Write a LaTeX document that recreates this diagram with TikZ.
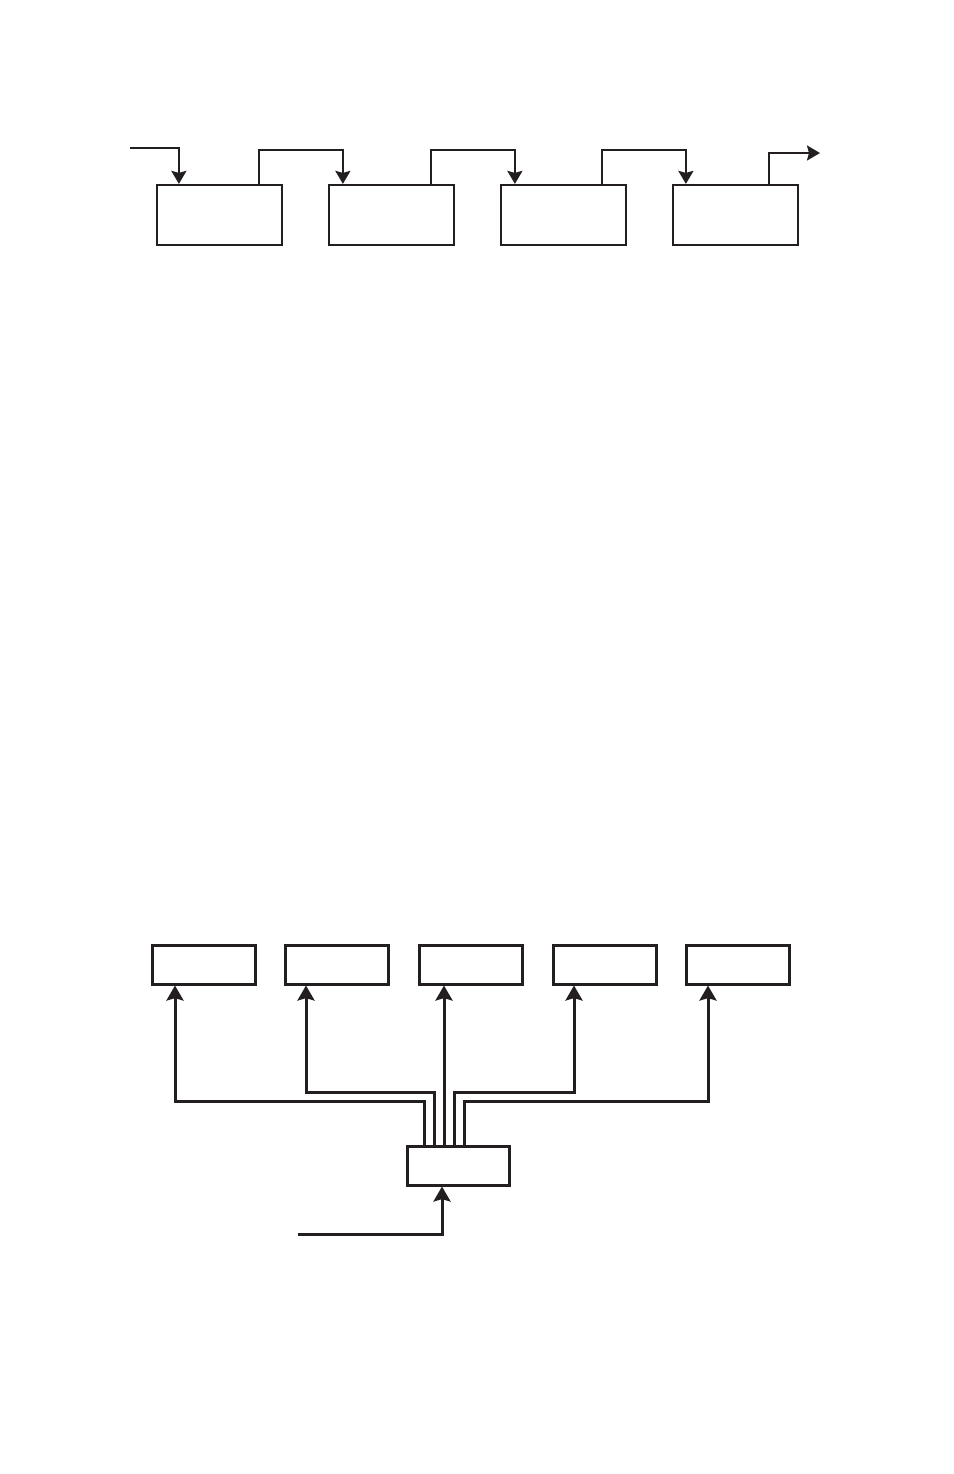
\documentclass[tikz,border=0pt]{standalone}
\usetikzlibrary{arrows.meta}

\definecolor{ink}{RGB}{35,31,32}
\tikzset{
  unit/.style={draw=ink,line width=1.1pt,minimum width=62.5pt,minimum height=30pt,inner sep=0pt},
  slot/.style={draw=ink,line width=1.5pt,minimum width=51.5pt,minimum height=19.5pt,inner sep=0pt},
  flow/.style={draw=ink,-{Stealth[length=6.5pt,width=7.5pt,inset=1pt]}},
  feed/.style={draw=ink,line width=1.5pt,-{Stealth[length=7.5pt,width=8.5pt,inset=1.2pt]}}
}

\begin{document}
\begin{tikzpicture}[x=0.5pt,y=-0.5pt]
  \useasboundingbox (0,0) rectangle (954,1474);

  % chain of units
  \foreach \i/\x in {1/219.5,2/391.5,3/563.5,4/735.5}
    \node[unit] (b\i) at (\x,215) {};
  \coordinate (in) at (130,148);
  \draw[flow,line width=1.1pt] (in) -| ([xshift=11.5pt]b1.north west);
  \foreach \i/\dx/\ex [count=\j from 2] in {1/-12/7.5,2/-12/7.5,3/-12.5/7}
    \draw[flow,line width=1.1pt] ([xshift=\dx pt]b\i.north east) -- ++(0,-34) -| ([xshift=\ex pt]b\j.north west);
  \coordinate (out) at (820,153);
  \draw[flow,line width=1.1pt] ([xshift=-15pt]b4.north east) |- (out);

  % distribution
  \foreach \i/\x in {1/203.5,2/337,3/470.5,4/604.5,5/738}
    \node[slot] (o\i) at (\x,964.5) {};
  \node[slot,minimum width=51pt] (hub) at (458,1165.5) {};

  \foreach \i/\dx/\rise/\ax in {1/-17/43/-14.25,2/-12/52/-15.5,4/-2/52/-15.25,5/3/43/-15}
    \draw[feed] ([xshift=\dx pt]hub.north) -- ++(0,-\rise) -| ([xshift=\ax pt]o\i.south);
  \draw[feed] ([xshift=-7pt]hub.north) -- ([xshift=-7pt]hub.north |- o3.south);

  \coordinate (src) at (298,1234);
  \draw[feed] (src) -| ([xshift=-8pt]hub.south);

\end{tikzpicture}
\end{document}
